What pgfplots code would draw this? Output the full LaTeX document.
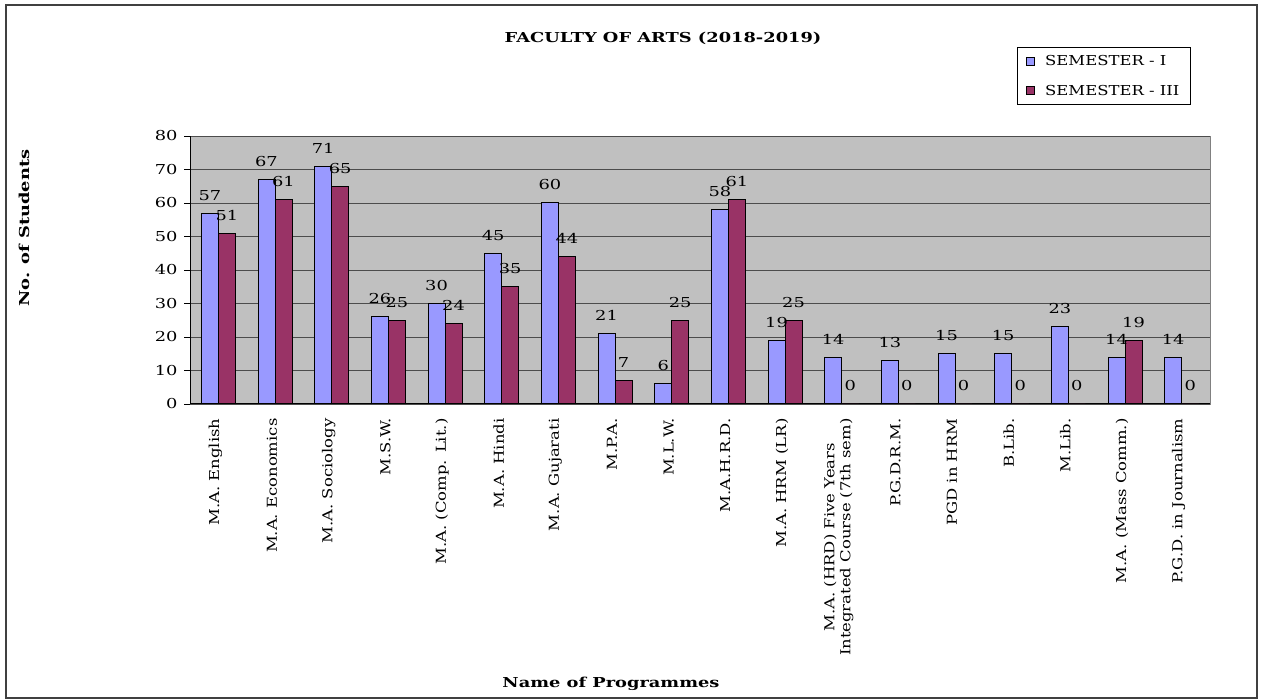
\documentclass[border=0pt]{standalone}
\usepackage{fontspec}
\setmainfont{DejaVu Serif}[FakeStretch=1.3]
\newfontfamily\legfont{DejaVu Serif}[FakeStretch=1.2]
\usepackage{pgfplots}
\pgfplotsset{compat=1.18}
\definecolor{semI}{RGB}{153,153,255}
\definecolor{semIII}{RGB}{153,51,102}
\definecolor{plotbg}{RGB}{192,192,192}
\newcommand{\lbl}{\fontsize{13.7}{16}\selectfont}
\begin{document}
\begin{tikzpicture}
\useasboundingbox (0pt,0pt) rectangle (1263pt,700pt);
\draw[line width=1.5pt, black!75] (6pt,2pt) rectangle (1257pt,695pt);
\node[font=\bfseries\fontsize{13.7}{16}\selectfont] at (663pt,662pt) {FACULTY OF ARTS (2018-2019)};
\node[font=\bfseries\fontsize{13.7}{16}\selectfont, rotate=90] at (24pt,472pt) {No. of Students};
\node[font=\bfseries\fontsize{13.7}{16}\selectfont] at (611pt,16pt) {Name of Programmes};
\begin{axis}[
  at={(190pt,296pt)}, anchor=south west,
  width=1020pt, height=268pt, scale only axis,
  ybar=0pt, bar width=17pt,
  xmin=-0.5, xmax=17.5, ymin=0, ymax=80,
  ytick={0,10,...,80},
  xtick={0,...,17},
  xticklabels={M.A. English, M.A. Economics, M.A. Sociology, M.S.W., M.A. (Comp. Lit.), M.A. Hindi, M.A. Gujarati, M.P.A., M.L.W., M.A.H.R.D., M.A. HRM (LR), {M.A. (HRD) Five Years\\Integrated Course (7th sem)}, P.G.D.R.M., PGD in HRM, B.Lib., M.Lib., M.A. (Mass Comm.), P.G.D. in Journalism},
  minor xtick={-0.5,0.5,...,17.5},
  xtick style={draw=none},
  minor x tick style={black, line width=0.8pt},
  y tick style={black, line width=0.8pt},
  major tick length=6pt, minor tick length=6pt,
  tick align=outside,
  axis x line*=bottom, axis y line*=left,
  axis line style={black, line width=1pt},
  axis background/.style={fill=plotbg, draw=gray},
  ymajorgrids, grid style={black!70, line width=0.9pt},
  /pgf/number format/assume math mode=true,
  yticklabel style={font=\lbl, xshift=-3pt},
  xticklabel style={font=\legfont\lbl, rotate=90, anchor=east, align=center, xshift=-5pt, yshift=3pt},
  nodes near coords,
  nodes near coords style={font=\lbl, anchor=south, yshift=9pt},
  legend style={at={(axis description cs:0.8108,1.332)}, anchor=north west,
    draw=black, fill=white, font=\legfont\lbl, inner xsep=9pt, inner ysep=6pt, row sep=14pt,
    legend cell align=left,
    /tikz/every odd column/.append style={column sep=8pt}},
  legend image code/.code={\draw[#1,draw=black] (0pt,-4pt) rectangle (8pt,4pt);},
  every axis plot/.append style={draw=black, line width=1pt},
]
\addplot[fill=semI] coordinates {(0,57) (1,67) (2,71) (3,26) (4,30) (5,45) (6,60) (7,21) (8,6) (9,58) (10,19) (11,14) (12,13) (13,15) (14,15) (15,23) (16,14) (17,14)};
\addplot[fill=semIII] coordinates {(0,51) (1,61) (2,65) (3,25) (4,24) (5,35) (6,44) (7,7) (8,25) (9,61) (10,25) (11,0) (12,0) (13,0) (14,0) (15,0) (16,19) (17,0)};
\legend{SEMESTER - I, SEMESTER - III}
\end{axis}
\end{tikzpicture}
\end{document}
